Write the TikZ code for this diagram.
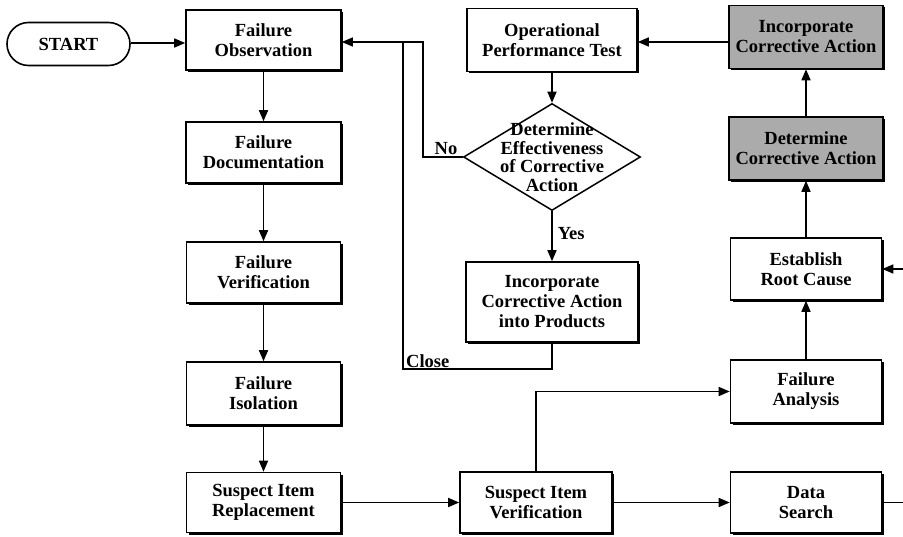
\documentclass[tikz,border=0pt]{standalone}
\usepackage{fontspec}
\setmainfont{Liberation Serif}
\usetikzlibrary{arrows.meta,shapes.misc,shapes.geometric,shadows}
\begin{document}
\begin{tikzpicture}[x=1pt,y=-1pt,
  txt/.style={font=\bfseries\fontsize{18.5}{20}\selectfont},
  box/.style={txt, draw, line width=1.6pt, fill=white, align=center, inner sep=0pt,
    drop shadow={shadow xshift=2pt, shadow yshift=-2pt, fill=black, opacity=1}},
  graybox/.style={box, fill=black!33},
  decision/.style={draw, line width=1.5pt, diamond, fill=white, inner sep=0pt},
  terminal/.style={txt, draw, line width=1.6pt, rounded rectangle, inner sep=0pt},
  tip/.style={-{Triangle[length=11pt,width=9pt]}},
  arr/.style={line width=1.6pt, tip},
  link/.style={line width=1.5pt},
  loop/.style={line width=1.3pt},
  tag/.style={txt, inner sep=0pt}
]
\useasboundingbox (0,0) rectangle (903,537);

% left column
\node[terminal, minimum width=123pt, minimum height=43pt] (start) at (68.5,44) {START};
\node[box, minimum width=155pt, minimum height=60pt] (fo) at (263.5,40) {Failure\\Observation};
\node[box, minimum width=155pt, minimum height=61pt] (fd) at (263.5,152.5) {Failure\\Documentation};
\node[box, minimum width=154pt, minimum height=61pt] (fv) at (263.5,272.5) {Failure\\Verification};
\node[box, minimum width=154pt, minimum height=63pt] (fi) at (263.5,393.5) {Failure\\Isolation};
\node[box, minimum width=154pt, minimum height=60pt] (sir) at (263.5,502.5) {Suspect Item\\Replacement};

% middle column
\node[box, minimum width=170pt, minimum height=63pt] (opt) at (552,40) {Operational\\Performance Test};
\node[decision, minimum width=177pt, minimum height=107pt,
  label={[txt, align=center, font=\bfseries\fontsize{18.5}{18.5}\selectfont]center:Determine\\Effectiveness\\of Corrective\\Action}] (det) at (552,157) {};
\node[box, minimum width=172pt, minimum height=80pt] (icp) at (552,302) {Incorporate\\Corrective Action\\into Products};
\node[box, minimum width=152pt, minimum height=61pt] (siv) at (536,502.5) {Suspect Item\\Verification};

% right column
\node[graybox, minimum width=154pt, minimum height=63pt] (ica) at (806,37) {Incorporate\\Corrective Action};
\node[graybox, minimum width=154pt, minimum height=63pt] (dca) at (806,148.5) {Determine\\Corrective Action};
\node[box, minimum width=151pt, minimum height=62pt] (erc) at (806,269) {Establish\\Root Cause};
\node[box, minimum width=151pt, minimum height=63pt] (fa) at (806,391.5) {Failure\\Analysis};
\node[box, minimum width=151pt, minimum height=61pt] (ds) at (806,502.5) {Data\\Search};

% routing points
\coordinate (c1) at (403,369);
\coordinate (c2) at (403,42);
\coordinate (n1) at (423,157);
\coordinate (edgeds) at (903,502.5);
\coordinate (edgerc) at (903,269);

% main flow
\draw[arr] (start.east |- 0,43) -- (fo.west |- 0,43);
\draw[arr] (fo) -- (fd);
\draw[arr] (fd) -- (fv);
\draw[arr] (fv) -- (fi);
\draw[arr] (fi) -- (sir);
\draw[arr] (sir) -- (siv);
\draw[arr] (siv) -- (ds);
\draw[arr] (siv.north) |- (fa.west);
\draw[arr] (fa) -- (erc);
\draw[arr] (erc) -- (dca);
\draw[arr] (dca) -- (ica);
\draw[arr] (ica.west |- 0,42) -- (opt.east |- 0,42);
\draw[arr] (opt) -- (det);
\draw[arr] (det) -- node[tag, right=5pt, pos=0.45] {Yes} (icp);

% feedback loops
\draw[loop, tip] (icp.south) |- (c1) -- (c2) -- (c2 -| fo.east);
\draw[loop] (det.west) -- (n1) |- (c2);
\node[tag, anchor=south west] (closetag) at (406,368) {Close};
\node[tag, anchor=south] (notag) at (446,155) {No};

% data search to root cause
\draw[link] (ds.east) -- (edgeds);
\draw[arr] (edgerc) -- (erc.east);
\end{tikzpicture}
\end{document}
